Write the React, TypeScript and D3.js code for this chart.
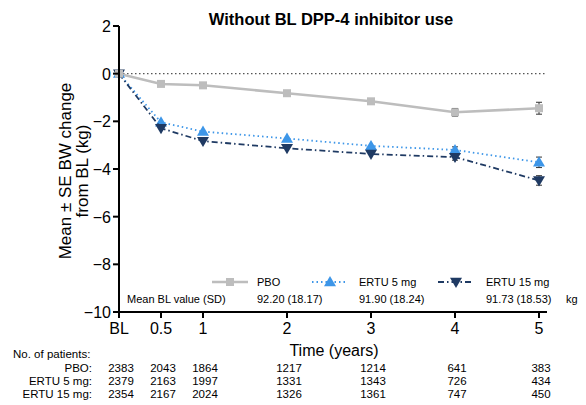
import React from "react";
import * as d3 from "d3";

const times = [0, 0.5, 1, 2, 3, 4, 5];
const xTickLabels = ["BL", "0.5", "1", "2", "3", "4", "5"];
const yTicks = [2, 0, -2, -4, -6, -8, -10];

const pboMean = [0, -0.43, -0.49, -0.82, -1.16, -1.62, -1.45];
const pboSE = [0, 0.05, 0.05, 0.06, 0.08, 0.16, 0.25];
const e5Mean = [0, -2.04, -2.43, -2.72, -3.03, -3.2, -3.72];
const e5SE = [0, 0.05, 0.05, 0.06, 0.08, 0.13, 0.22];
const e15Mean = [0, -2.29, -2.83, -3.13, -3.37, -3.5, -4.48];
const e15SE = [0, 0.05, 0.05, 0.06, 0.08, 0.13, 0.2];

const legendNames = ["PBO", "ERTU 5 mg", "ERTU 15 mg"];
const baselineValues = ["92.20 (18.17)", "91.90 (18.24)", "91.73 (18.53)"];
const tableLabels = ["PBO:", "ERTU 5 mg:", "ERTU 15 mg:"];
const pboN = [2383, 2043, 1864, 1217, 1214, 641, 383];
const e5N = [2379, 2163, 1997, 1331, 1343, 726, 434];
const e15N = [2354, 2167, 2024, 1326, 1361, 747, 450];

const FONT = "Liberation Sans, Arial, sans-serif";

export default function App() {
  const W = 586, H = 405;
  const x = d3.scaleLinear().domain([0, 5]).range([119, 539]);
  const y = d3.scaleLinear().domain([-10, 2]).range([312, 26]);
  const line = d3.line<[number, number]>().x(d => x(d[0])).y(d => y(d[1]));
  const tableX = (t: number) => x(t) + 2;

  const series = [
    { mean: pboMean, se: pboSE, color: "#bdbdbd", width: 2.5, dash: "", marker: "square" },
    { mean: e5Mean, se: e5SE, color: "#3d96e8", width: 1.8, dash: "1.5,3", marker: "up" },
    { mean: e15Mean, se: e15SE, color: "#1f3a63", width: 1.8, dash: "6,3,1.5,3", marker: "down" },
  ];

  const marker = (type: string, cx: number, cy: number, color: string, key: any) => {
    if (type === "square") {
      return <rect key={key} x={cx - 4} y={cy - 4} width={8} height={8} fill={color} />;
    }
    const s = 6;
    const pts = type === "up"
      ? [[cx, cy - s], [cx - s, cy + s * 0.7], [cx + s, cy + s * 0.7]]
      : [[cx, cy + s], [cx - s, cy - s * 0.7], [cx + s, cy - s * 0.7]];
    return <polygon key={key} points={pts.map(p => p.join(",")).join(" ")} fill={color} />;
  };

  const legendX = [212, 312, 438];
  const legendTextX = [257, 359, 486];

  return (
    <svg width={W} height={H} style={{ position: "absolute", left: 0, top: 0, fontFamily: FONT }}>
      <rect width={W} height={H} fill="#fff" />
      <text x={331} y={25} textAnchor="middle" fontSize={16.5} fontWeight="bold">Without BL DPP-4 inhibitor use</text>

      <line x1={x(0)} x2={547} y1={y(0)} y2={y(0)} stroke="#555" strokeWidth={1.2} strokeDasharray="1.5,2.5" />

      {series.map((s, i) => {
        const pts = times.map((t, j) => [t, s.mean[j]] as [number, number]);
        return (
          <g key={i}>
            <path d={line(pts) || ""} fill="none" stroke={s.color} strokeWidth={s.width} strokeDasharray={s.dash} />
            {times.map((t, j) => s.se[j] > 0.1 ? (
              <g key={"e" + j} stroke="#333" strokeWidth={1}>
                <line x1={x(t)} x2={x(t)} y1={y(s.mean[j] - s.se[j])} y2={y(s.mean[j] + s.se[j])} />
                <line x1={x(t) - 3} x2={x(t) + 3} y1={y(s.mean[j] - s.se[j])} y2={y(s.mean[j] - s.se[j])} />
                <line x1={x(t) - 3} x2={x(t) + 3} y1={y(s.mean[j] + s.se[j])} y2={y(s.mean[j] + s.se[j])} />
              </g>
            ) : null)}
            {times.map((t, j) => marker(s.marker, x(t), y(s.mean[j]), s.color, j))}
          </g>
        );
      })}
      {marker("square", x(0), y(0), "#bdbdbd", "bl")}

      <line x1={x(0)} x2={x(0)} y1={y(2)} y2={y(-10)} stroke="#000" strokeWidth={2} />
      {yTicks.map(v => (
        <g key={v}>
          <line x1={x(0) - 6} x2={x(0)} y1={y(v)} y2={y(v)} stroke="#000" strokeWidth={2} />
          <text x={x(0) - 8} y={y(v) + 6} textAnchor="end" fontSize={16}>{v < 0 ? "\u2212" + Math.abs(v) : String(v)}</text>
        </g>
      ))}
      <g transform={`translate(65,171) rotate(-90)`}>
        <text textAnchor="middle" fontSize={17} y={6}>Mean ± SE BW change</text>
        <text textAnchor="middle" fontSize={17} y={23}>from BL (kg)</text>
      </g>

      <line x1={x(0)} x2={547} y1={y(-10)} y2={y(-10)} stroke="#000" strokeWidth={2} />
      {times.map((t, j) => (
        <g key={t}>
          <line x1={x(t)} x2={x(t)} y1={y(-10)} y2={y(-10) + 6} stroke="#000" strokeWidth={2} />
          <text x={x(t)} y={334} textAnchor="middle" fontSize={16}>{xTickLabels[j]}</text>
        </g>
      ))}
      <text x={334} y={356} textAnchor="middle" fontSize={16}>Time (years)</text>

      {series.map((s, i) => (
        <g key={"lg" + i}>
          <line x1={legendX[i]} x2={legendX[i] + 36} y1={282} y2={282} stroke={s.color} strokeWidth={s.width} strokeDasharray={s.dash} />
          {marker(s.marker, legendX[i] + 18, 282, s.color, "m")}
          <text x={legendTextX[i]} y={286} fontSize={11}>{legendNames[i]}</text>
          <text x={legendTextX[i]} y={303} fontSize={11}>{baselineValues[i]}</text>
        </g>
      ))}
      <text x={127} y={303} fontSize={11}>Mean BL value (SD)</text>
      <text x={566} y={303} fontSize={11}>kg</text>

      <text x={13} y={358} fontSize={11.5}>No. of patients:</text>
      {[pboN, e5N, e15N].map((row, i) => (
        <g key={"r" + i}>
          <text x={92} y={372 + i * 13} textAnchor="end" fontSize={11.5}>{tableLabels[i]}</text>
          {row.map((n, j) => (
            <text key={j} x={tableX(times[j])} y={372 + i * 13} textAnchor="middle" fontSize={11.5}>{n}</text>
          ))}
        </g>
      ))}
    </svg>
  );
}
